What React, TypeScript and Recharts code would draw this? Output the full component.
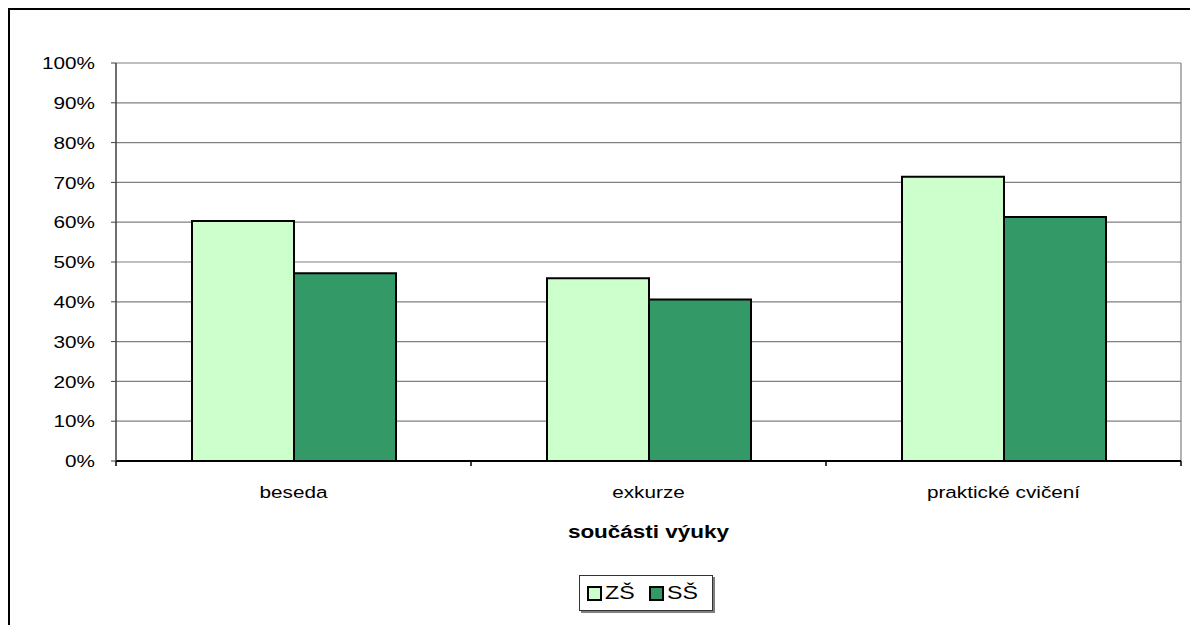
import { BarChart, Bar, XAxis, YAxis, CartesianGrid, Label } from 'recharts';

const categories = ['beseda', 'exkurze', 'praktické cvičení'];
const zsValues = [60.3, 45.9, 71.4];
const ssValues = [47.2, 40.6, 61.3];
const yTicks = [0, 10, 20, 30, 40, 50, 60, 70, 80, 90, 100];

const SERIES = [
    { key: 'zs', name: 'ZŠ', color: '#CCFFCC' },
    { key: 'ss', name: 'SŠ', color: '#339966' }
];

const data = categories.map((c, i) => ({
    name: c,
    zs: zsValues[i],
    ss: ssValues[i]
}));

const FONT = '"Liberation Sans", Arial, sans-serif';
// the source picture is a bit stretched sideways, text too
const SX = 1.22;

// tick marks sit between categories, labels in the middle
const CategoryTick = (props: any) => {
    const { x, y, payload, index } = props;
    const half = payload && payload.offset ? payload.offset : 177.5;
    return (
        <g>
            <line x1={x - half} y1={y} x2={x - half} y2={y + 5} stroke="#000" strokeWidth={1.5} />
            {index === categories.length - 1 && (
                <line x1={x + half} y1={y} x2={x + half} y2={y + 5} stroke="#000" strokeWidth={1.5} />
            )}
            <text
                transform={`translate(${x},${y + 37}) scale(${SX},1)`}
                textAnchor="middle"
                fontSize={17}
                fontFamily={FONT}
                fill="#000"
            >
                {payload.value}
            </text>
        </g>
    );
};

const PercentTick = (props: any) => {
    const { x, y, payload } = props;
    return (
        <text
            transform={`translate(${x},${y}) scale(${SX},1)`}
            dy="0.36em"
            textAnchor="end"
            fontSize={17}
            fontFamily={FONT}
            fill="#000"
        >
            {`${payload.value}%`}
        </text>
    );
};

const AxisTitle = (props: any) => {
    const vb = props.viewBox || { x: 106, y: 451, width: 1065 };
    return (
        <text
            transform={`translate(${vb.x + vb.width / 2},${vb.y + 77}) scale(1.25,1)`}
            textAnchor="middle"
            fontSize={18}
            fontWeight="bold"
            fontFamily={FONT}
            fill="#000"
        >
            součásti výuky
        </text>
    );
};

const LegendBox = () => (
    <div
        style={{
            position: 'absolute',
            left: 569,
            top: 565,
            width: 134,
            height: 36,
            boxSizing: 'border-box',
            display: 'flex',
            alignItems: 'center',
            border: '1px solid #333',
            boxShadow: '2px 2px 0 #808080',
            background: '#fff',
            paddingLeft: 7,
            fontFamily: FONT,
            fontSize: 19,
            color: '#000'
        }}
    >
        {SERIES.map((s, i) => (
            <div key={s.key} style={{ display: 'flex', alignItems: 'center', marginLeft: i === 0 ? 0 : 14 }}>
                <span
                    style={{
                        display: 'inline-block',
                        width: 11,
                        height: 11,
                        background: s.color,
                        border: '2px solid #000',
                        marginRight: 3
                    }}
                />
                <span style={{ display: 'inline-block', width: 30 }}>
                    <span style={{ display: 'inline-block', transform: `scaleX(${SX})`, transformOrigin: 'left center' }}>
                        {s.name}
                    </span>
                </span>
            </div>
        ))}
    </div>
);

export default function App() {
    return (
        <div
            style={{
                width: 1188,
                height: 615,
                borderTop: '2px solid #000',
                borderLeft: '2px solid #000',
                background: '#fff',
                position: 'relative'
            }}
        >
            <BarChart
                width={1188}
                height={615}
                data={data}
                margin={{ top: 53, right: 17, left: 0, bottom: 124 }}
                barGap={0}
                barSize={102}
            >
                <CartesianGrid
                    stroke="#808080"
                    strokeWidth={1.2}
                    verticalCoordinatesGenerator={({ offset }: any) => [offset.left + offset.width]}
                />
                <XAxis
                    dataKey="name"
                    height={40}
                    tickLine={false}
                    tickSize={0}
                    tickMargin={0}
                    axisLine={{ stroke: '#000', strokeWidth: 2 }}
                    tick={<CategoryTick />}
                    interval={0}
                >
                    <Label content={<AxisTitle />} />
                </XAxis>
                <YAxis
                    width={106}
                    domain={[0, 100]}
                    ticks={yTicks}
                    interval={0}
                    tickSize={5}
                    tickMargin={16}
                    tickLine={{ stroke: '#404040' }}
                    axisLine={{ stroke: '#404040', strokeWidth: 1.5 }}
                    tick={<PercentTick />}
                />
                {SERIES.map(s => (
                    <Bar
                        key={s.key}
                        dataKey={s.key}
                        name={s.name}
                        fill={s.color}
                        stroke="#000"
                        strokeWidth={2}
                        isAnimationActive={false}
                    />
                ))}
            </BarChart>
            <LegendBox />
        </div>
    );
}
